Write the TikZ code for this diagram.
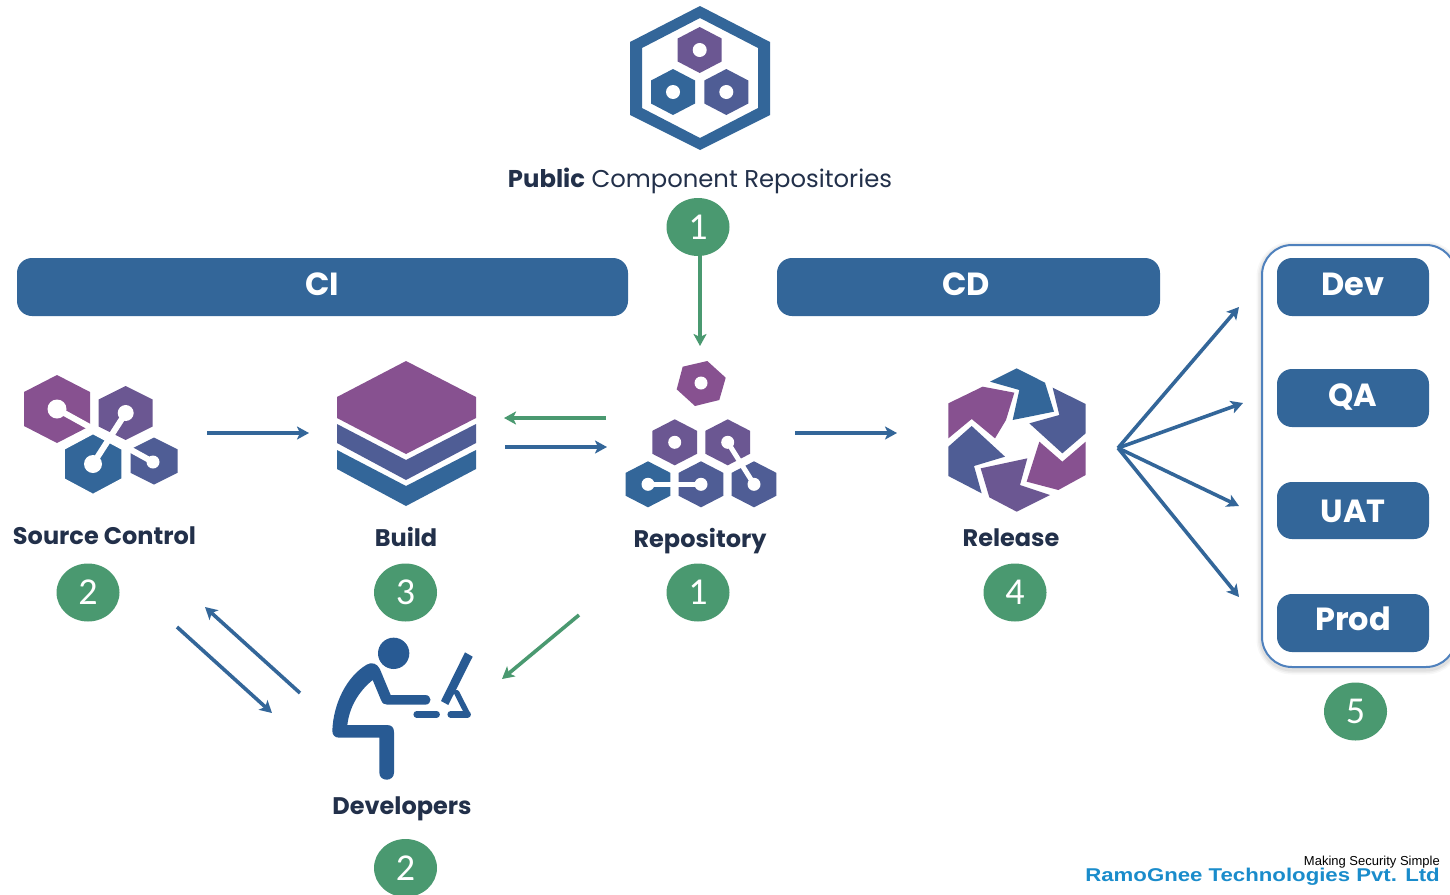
\documentclass[tikz,border=0pt]{standalone}
\usepackage{fontspec}
\setmainfont{Poppins}
\newfontfamily\digitfont{Carlito}
\newfontfamily\logofont{Liberation Sans}
\usetikzlibrary{arrows.meta,shapes.geometric}
\definecolor{cblue}{HTML}{336699}
\definecolor{cmid}{HTML}{4F5D95}
\definecolor{cviolet}{HTML}{6B5792}
\definecolor{cpurple}{HTML}{875190}
\definecolor{cgreen}{HTML}{4A9970}
\definecolor{cdev}{HTML}{285A93}
\definecolor{cink}{HTML}{22304A}
\definecolor{cframe}{HTML}{4F81BD}
\definecolor{clogo}{HTML}{1A8CCB}
\newcommand\hexa[5]{\fill[#5] (#1,#2-#4) -- (#1+#3,#2-0.5*#4) -- (#1+#3,#2+0.5*#4) -- (#1,#2+#4) -- (#1-#3,#2+0.5*#4) -- (#1-#3,#2-0.5*#4) -- cycle;}
\tikzset{
  bar/.style={fill=cblue,rounded corners=15pt,inner sep=0pt,anchor=center},
  bartext/.style={text=white,font=\fontsize{32}{36}\selectfont\bfseries,inner sep=0pt},
  badge/.style={ellipse,fill=cgreen,text=white,minimum width=63pt,minimum height=58pt,inner sep=0pt,font=\digitfont\fontsize{38}{42}\selectfont},
  lab/.style={text=cink,font=\fontsize{24}{28}\selectfont\bfseries,inner sep=0pt,anchor=base},
  bluearrow/.style={draw=cblue,line width=3.6pt,-{Stealth[length=12pt,width=13pt,inset=3pt]}},
  greenarrow/.style={draw=cgreen,line width=3.6pt,-{Stealth[length=12pt,width=13pt,inset=3pt]}},
  cut/.style={draw=white,line width=6pt},
  zoomed/.style={shift={(#1)},x=0.33333pt,y=-0.33333pt}
}
\begin{document}
\begin{tikzpicture}[x=1pt,y=-1pt]
\useasboundingbox (0,0) rectangle (1450,894);
\clip (0,0) rectangle (1450,894);
\fill[white] (0,0) rectangle (1450,894);

% public repositories icon
\fill[cblue,even odd rule] (700,6) -- (770,42) -- (770,115) -- (700,150) -- (630,115) -- (630,42) -- cycle
  (700,18) -- (758,48) -- (758,108) -- (700,138) -- (642,108) -- (642,48) -- cycle;
\hexa{699.7}{50}{22}{23}{cviolet}
\hexa{673}{92}{22}{23}{cblue}
\hexa{726.3}{92}{22}{23}{cmid}
\fill[white] (699.7,50) circle (7) (673,92) circle (7) (726.3,92) circle (7);

% CI CD bars
\node[bar,minimum width=611pt,minimum height=58pt] (ci) at (322.5,287) {};
\node[bartext] (citext) at (322,284) {CI};
\node[bar,minimum width=383pt,minimum height=58pt] (cd) at (968.5,287) {};
\node[bartext] (cdtext) at (966,284) {CD};

% environment frame with its soft shadow
\foreach \w/\o in {11/0.03,8/0.04,5/0.05}
  \draw[black,opacity=\o,line width=\w pt,rounded corners=30pt] (1262,247) rectangle (1456,669);
\draw[cframe,fill=white,line width=2pt,rounded corners=30pt] (1262,245) rectangle (1456,667);
\node[bar,minimum width=152pt,minimum height=58pt] (dev) at (1353,287) {};
\node[bar,minimum width=152pt,minimum height=58pt] (qa) at (1353,398) {};
\node[bar,minimum width=152pt,minimum height=57pt] (uat) at (1353,510.5) {};
\node[bar,minimum width=152pt,minimum height=58pt] (prod) at (1353,623) {};
\node[bartext] (devt) at (1353,284) {Dev};
\node[bartext] (qat) at (1353,397) {QA};
\node[bartext] (uatt) at (1353,511) {UAT};
\node[bartext] (prodt) at (1353,619) {Prod};

% source control icon
\hexa{57}{409}{33}{34}{cpurple}
\hexa{125.7}{413}{27}{27}{cviolet}
\hexa{154}{461}{23.5}{23.5}{cmid}
\fill[cblue,draw=white,line width=1.5pt] (93,433.5) -- (122,449) -- (122,479) -- (93,494.5) -- (64,479) -- (64,449) -- cycle;
\draw[cut] (57,409) -- (153,462);
\draw[cut] (125.7,413) -- (93,464);
\fill[white] (57,409) circle (9.5) (125.7,413) circle (8) (93,464) circle (9) (153,462) circle (6.5);

% build icon
\fill[cpurple] (406,361) -- (476,397) -- (476,418) -- (406,454) -- (337,418) -- (337,397) -- cycle;
\fill[cmid] (337,424) -- (406,460) -- (476,424) -- (476,443) -- (406,480) -- (337,443) -- cycle;
\fill[cblue] (337,450) -- (406,486) -- (476,450) -- (476,469) -- (406,506) -- (337,469) -- cycle;

% repository icon
\fill[cpurple] (707.3,361) -- (725.7,377.7) -- (719.3,400) -- (695,406) -- (676.7,389.3) -- (682.7,366.7) -- cycle;
\fill[white] (701,383) circle (6.5);
\hexa{674.7}{442.3}{22.3}{23}{cviolet}
\hexa{727.7}{442.3}{22.3}{23}{cviolet}
\hexa{648}{484.3}{22.3}{23}{cblue}
\hexa{701}{484.3}{22.3}{23}{cmid}
\hexa{754}{484.3}{22.3}{23}{cmid}
\fill[white] (674.7,442.3) circle (6.5);
\draw[cut,line width=5pt] (648,484.3) -- (701,484.3);
\draw[cut,line width=5pt] (727.7,442.3) -- (754,484.3);
\fill[white] (648,484.3) circle (6.5) (701,484.3) circle (6.5) (727.7,442.3) circle (6.5) (754,484.3) circle (6.5);

% release icon
\begin{scope}[zoomed={600,340}]
\fill[cblue] (1170,125) -- (1250,85) -- (1335,128) -- (1362,215) -- (1238,240) -- (1258,150) -- cycle;
\fill[cmid] (1358,143) -- (1457,192) -- (1457,280) -- (1387,340) -- (1288,250) -- (1378,225) -- cycle;
\fill[cpurple] (1318,305) -- (1387,365) -- (1457,305) -- (1457,405) -- (1375,450) -- (1280,425) -- cycle;
\fill[cviolet] (1350,465) -- (1250,515) -- (1168,472) -- (1142,385) -- (1282,355) -- (1260,435) -- cycle;
\fill[cmid] (1145,460) -- (1045,408) -- (1045,320) -- (1115,258) -- (1215,350) -- (1122,378) -- cycle;
\fill[cpurple] (1045,295) -- (1045,190) -- (1148,140) -- (1243,158) -- (1218,240) -- (1185,295) -- (1115,237) -- cycle;
\end{scope}

% developer figure
\begin{scope}[zoomed={300,620}]
\fill[cdev] (281,100) circle (47);
\fill[cdev] (200,134) .. controls (215,125) and (232,130) .. (240,148) -- (272,225) -- (375,225)
  .. controls (397,225) and (397,254) .. (375,254) -- (262,254) .. controls (252,254) and (247,250) .. (243,240) -- (218,180)
  .. controls (175,215) and (148,262) .. (142,315) -- (260,315) .. controls (275,315) and (282,322) .. (282,337)
  -- (282,458) .. controls (282,486) and (238,486) .. (238,458) -- (238,353) -- (118,353)
  .. controls (104,353) and (97,345) .. (97,332) .. controls (100,250) and (140,170) .. (200,134) -- cycle;
\draw[cdev,line width=6.5pt,line cap=round] (350,283) -- (410,283);
\draw[cdev,line width=6.5pt,line cap=round] (452,283) -- (503,283);
\draw[cdev,line width=5.5pt,line cap=round] (470,218) -- (503,283);
\fill[cdev] (495,97) -- (518,110) -- (445,255) -- (423,243) -- cycle;
\end{scope}

% labels
\node[text=cink,font=\fontsize{24.3}{28}\selectfont,inner sep=0pt,anchor=base] (pub) at (700,187) {\textbf{Public} Component Repositories};
\node[lab] (src) at (104.5,544) {Source Control};
\node[lab] (bld) at (406,546) {Build};
\node[lab] (rep) at (700,547) {Repository};
\node[lab] (rel) at (1011,546) {Release};
\node[lab] (devs) at (402,814) {Developers};

% badges
\node[badge] (b1) at (698,227) {1};
\node[badge] (b2) at (88,592.5) {2};
\node[badge] (b3) at (405.5,592.5) {3};
\node[badge] (b4) at (698,592.5) {1};
\node[badge] (b5) at (1015,592.5) {4};
\node[badge] (b6) at (1355.5,711.5) {5};
\node[badge] (b7) at (405.5,868) {2};

% connector ends
\coordinate (a1) at (207,433); \coordinate (a2) at (309,433);
\coordinate (a3) at (505,447); \coordinate (a4) at (607,447);
\coordinate (a5) at (606,418); \coordinate (a6) at (504,418);
\coordinate (a7) at (795,433); \coordinate (a8) at (897,433);
\coordinate (a9) at (700,346);
\coordinate (a10) at (579,615); \coordinate (a11) at (502,679);
\coordinate (a12) at (300,693); \coordinate (a13) at (205,607);
\coordinate (a14) at (177,627); \coordinate (a15) at (272,713);
\coordinate (fan) at (1118,448);
\coordinate (f1) at (1239,307); \coordinate (f2) at (1243,403);
\coordinate (f3) at (1239,506); \coordinate (f4) at (1239,597);

\draw[bluearrow] (a1) -- (a2);
\draw[bluearrow] (a3) -- (a4);
\draw[greenarrow] (a5) -- (a6);
\draw[bluearrow] (a7) -- (a8);
\draw[greenarrow] (b1.south -| a9) -- (a9);
\draw[greenarrow] (a10) -- (a11);
\draw[bluearrow] (a12) -- (a13);
\draw[bluearrow] (a14) -- (a15);
\draw[bluearrow] (fan) -- (f1);
\draw[bluearrow] (fan) -- (f2);
\draw[bluearrow] (fan) -- (f3);
\draw[bluearrow] (fan) -- (f4);

% logo
\node[anchor=base east,inner sep=0pt,font=\logofont\fontsize{13}{14}\selectfont,text=black] (tag) at (1440,865) {Making Security Simple};
\node[anchor=base east,inner sep=0pt,font=\logofont\bfseries\fontsize{18.5}{20}\selectfont,text=clogo,xscale=1.2,transform shape] (logo) at (1440,881) {RamoGnee Technologies Pvt. Ltd};
\end{tikzpicture}
\end{document}
